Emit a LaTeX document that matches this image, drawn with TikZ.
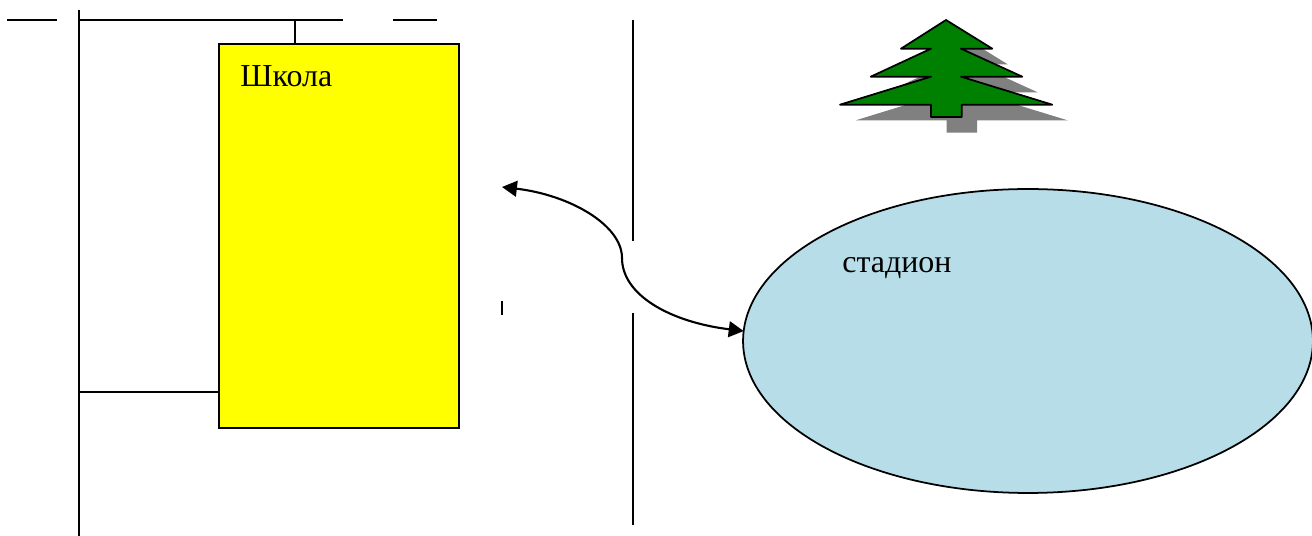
\documentclass[tikz,border=0pt]{standalone}
\usepackage{fontspec}
\setmainfont{Liberation Serif}
\usetikzlibrary{arrows.meta,shapes.geometric}
\definecolor{shkolayellow}{HTML}{FFFF00}
\definecolor{stadionblue}{HTML}{B7DDE8}
\definecolor{treegreen}{HTML}{008000}
\definecolor{treeshadow}{HTML}{808080}
\tikzset{
	road/.style={line width=1pt,black},
	label/.style={anchor=base west,inner sep=0pt,font=\fontsize{18.2pt}{20pt}\selectfont},
	tree/.pic={
		\path [pic actions] (946,20) -- (992.3,48.7) -- (961,48.7) -- (1022.3,76.7) -- (961,76.7)
			-- (1052.3,104.7) -- (961.7,104.7) -- (961.7,117) -- (931,117) -- (931,104.7)
			-- (840,104.7) -- (931,76.7) -- (870.7,76.7) -- (931,48.7) -- (901,48.7) -- cycle;
	}
}

\begin{document}
\begin{tikzpicture}[x=0.02cm,y=-0.02cm]
	\useasboundingbox (0,0) rectangle (1312,536);

	% buildings
	\node [draw,road,fill=shkolayellow,rectangle,minimum width=4.8cm,minimum height=7.68cm,inner sep=0pt,outer sep=0pt] (shkola) at (339,236) {};
	\node [draw,road,fill=stadionblue,ellipse,minimum width=11.4cm,minimum height=6.08cm,inner sep=0pt,outer sep=0pt] (stadion) at (1028,341) {};
	\node [label] (shkolaText) at (240,87) {Школа};
	\node [label] (stadionText) at (842,273) {стадион};

	% tree and its shadow
	\pic [fill=treeshadow,shift={(15.5,15.7)}] {tree};
	\pic [draw=black,line width=1pt,fill=treegreen,line join=round] {tree};

	% roads
	\coordinate (leftTop) at (79,10);
	\coordinate (leftBottom) at (79,536);
	\coordinate (topStart) at (79,20);
	\coordinate (topEnd) at (343,20);
	\coordinate (topBranch) at (295,20);
	\coordinate (leftBranch) at (79,392);
	\coordinate (dashAStart) at (7,20);
	\coordinate (dashAEnd) at (57,20);
	\coordinate (dashBStart) at (393,20);
	\coordinate (dashBEnd) at (437,20);
	\coordinate (tickTop) at (502,301);
	\coordinate (tickBottom) at (502,315);
	\coordinate (midTop) at (633,20);
	\coordinate (midGapTop) at (633,241);
	\coordinate (midGapBottom) at (633,313);
	\coordinate (midBottom) at (633,525);

	\draw [road] (leftTop) -- (leftBottom);
	\draw [road] (topStart) -- (topEnd);
	\draw [road] (topBranch) -- (topBranch |- shkola.north);
	\draw [road] (leftBranch) -- (leftBranch -| shkola.west);
	\draw [road] (dashAStart) -- (dashAEnd);
	\draw [road] (dashBStart) -- (dashBEnd);
	\draw [road] (tickTop) -- (tickBottom);
	\draw [road] (midTop) -- (midGapTop);
	\draw [road] (midGapBottom) -- (midBottom);

	% way to the stadium
	\coordinate (wayEnd) at (502,187);
	\draw [road,line width=1.2pt,{Triangle[length=8.5pt,width=9pt]}-{Triangle[length=8.5pt,width=9pt]}] (wayEnd)
		.. controls (570,195) and (622,225) .. (622,258)
		.. controls (622,295) and (670,322) .. (stadion.178.3);
\end{tikzpicture}
\end{document}
